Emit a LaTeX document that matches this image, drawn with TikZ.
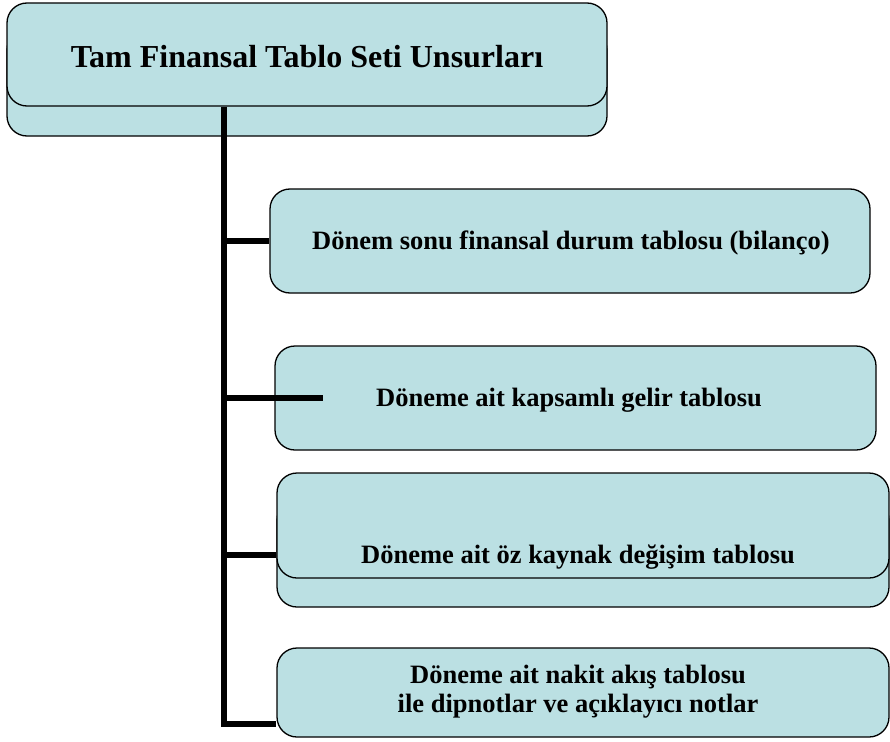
\documentclass[tikz,border=0pt]{standalone}
\usepackage{fontspec}
\setmainfont{Liberation Serif}
\definecolor{boxfill}{HTML}{BBE0E3}
\begin{document}
\begin{tikzpicture}[x=1pt,y=-1pt,
  box/.style={draw=black, line width=1.3pt, fill=boxfill, rounded corners=20pt, inner sep=0pt},
  conn/.style={line width=5.5pt, black},
  btext/.style={font=\bfseries\fontsize{26.5}{29}\selectfont, align=center}]
\useasboundingbox (0,0) rectangle (890,741);
% top (stacked)
\draw[box] (7,30) rectangle (607,136);
\node[box, minimum width=600pt, minimum height=103pt] (top) at (307,54.5) {};
\node[font=\bfseries\fontsize{32}{36}\selectfont] (toptext) at (307,57) {Tam Finansal Tablo Seti Unsurları};
% box 1
\node[box, minimum width=600pt, minimum height=104pt] (b1) at (570,241) {};
\node[btext] (t1) at (571,243) {Dönem sonu finansal durum tablosu (bilanço)};
% box 2
\node[box, minimum width=601pt, minimum height=104pt] (b2) at (575.5,398) {};
% box 3 (stacked)
\draw[box] (277,500) rectangle (889,607);
\node[box, minimum width=612pt, minimum height=105pt] (b3) at (583,525.5) {};
\node[btext] (t3) at (578,557) {Döneme ait öz kaynak değişim tablosu};
% box 4
\node[box, minimum width=612pt, minimum height=89pt] (b4) at (583,692.5) {};
\node[btext] (t4) at (578,692) {Döneme ait nakit akış tablosu\\ile dipnotlar ve açıklayıcı notlar};
% connectors
\coordinate (tr) at (224,724);
\coordinate (e2) at (323,398);
\draw[conn] (top.south -| tr) -- (tr) -- (b4.west |- tr);
\draw[conn] (tr |- b1.west) -- (b1.west);
\draw[conn] (tr |- e2) -- (e2);
\coordinate (e3) at (224,555);
\draw[conn] (e3) -- (b3.west |- e3);
\node[btext] (t2) at (569,400) {Döneme ait kapsamlı gelir tablosu};
\end{tikzpicture}
\end{document}
